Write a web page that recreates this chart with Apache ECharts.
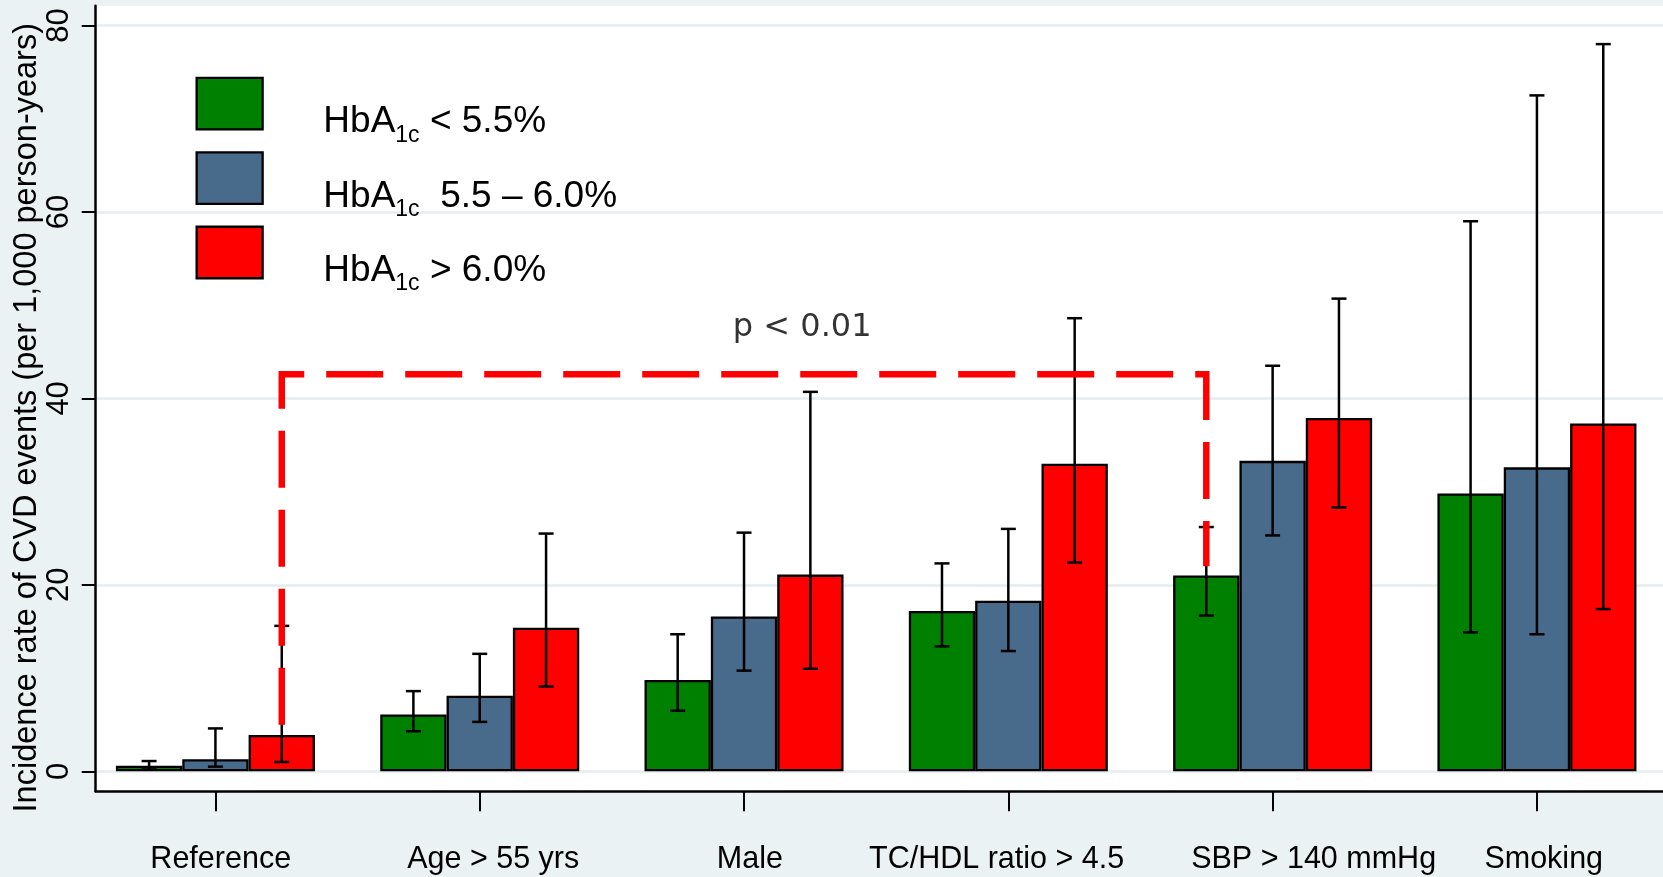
<!DOCTYPE html>
<html>
<head>
<meta charset="utf-8">
<script src="https://cdn.jsdelivr.net/npm/echarts@6/dist/echarts.min.js"></script>
<style>
  html, body { margin: 0; padding: 0; background: #EAF2F3; }
  #chart { width: 1663px; height: 877px; }
</style>
</head>
<body>
<div id="chart"></div>
<script>
// ---------------- data ----------------
const categories = ['Reference', 'Age > 55 yrs', 'Male', 'TC/HDL ratio > 4.5', 'SBP > 140 mmHg', 'Smoking'];
const seriesNames = ['HbA1c < 5.5%', 'HbA1c 5.5 – 6.0%', 'HbA1c > 6.0%'];

const rateLow      = [0.6, 6.1, 9.8, 17.2, 21.0, 29.8];
const rateLowCiLo  = [0.2, 4.3, 6.5, 13.4, 16.7, 14.9];
const rateLowCiHi  = [1.1, 8.6, 14.7, 22.3, 26.2, 59.0];

const rateMid      = [1.3, 8.1, 16.6, 18.3, 33.3, 32.6];
const rateMidCiLo  = [0.5, 5.3, 10.8, 12.9, 25.3, 14.7];
const rateMidCiHi  = [4.6, 12.6, 25.6, 26.0, 43.5, 72.5];

const rateHigh     = [3.9, 15.4, 21.1, 33.0, 37.9, 37.3];
const rateHighCiLo = [1.0, 9.1, 11.0, 22.4, 28.3, 17.4];
const rateHighCiHi = [15.6, 25.5, 40.7, 48.6, 50.7, 78.0];

const yTicks = [0, 20, 40, 60, 80];
const yTitle = 'Incidence rate of CVD events (per 1,000 person-years)';

// significance bracket: from (category, series) bar to another, with levels
const bracketFrom = { cat: 0, series: 2, y: 5.0 };
const bracketTo   = { cat: 4, series: 0, y: 22.0 };
const bracketTop  = 42.6;
const pText = 'p < 0.01';
const pTextAt = [2.22, 47.55];

// ---------------- styles ----------------
const colors = ['#008000', '#486A8B', '#FF0000'];
const barCatGap = 0.247;
const barFrac = (1 - barCatGap) / 3;
const seriesOffsets = [-barFrac, 0, barFrac];
const labelNudgePx = [5.3, 13.5, 5.9, -11.7, 41, 6.8];
const FONT = '"Liberation Sans", Arial, Helvetica, sans-serif';

const values = [rateLow, rateMid, rateHigh];
const ciLo = [rateLowCiLo, rateMidCiLo, rateHighCiLo];
const ciHi = [rateLowCiHi, rateMidCiHi, rateHighCiHi];

const chart = echarts.init(document.getElementById('chart'), null, { renderer: 'canvas' });

const barSeries = values.map((vals, k) => ({
  name: seriesNames[k],
  type: 'bar',
  data: vals.map((v, i) => [i, v]),
  barGap: '0%',
  barCategoryGap: (barCatGap * 100) + '%',
  itemStyle: { color: colors[k], borderColor: '#000', borderWidth: 2.3 },
  z: 2
}));

const errSeries = values.map((vals, k) => ({
  name: 'err' + k,
  type: 'custom',
  data: vals.map((v, i) => [i + seriesOffsets[k], ciLo[k][i], ciHi[k][i]]),
  encode: { x: 0, y: [1, 2] },
  z: 3,
  renderItem: function (params, api) {
    const x = api.value(0);
    const pLo = api.coord([x, api.value(1)]);
    const pHi = api.coord([x, api.value(2)]);
    const hw = 7.5;
    const st = { stroke: '#000', lineWidth: 2.5 };
    return {
      type: 'group',
      children: [
        { type: 'line', shape: { x1: pLo[0], y1: pLo[1], x2: pHi[0], y2: pHi[1] }, style: st },
        { type: 'line', shape: { x1: pHi[0] - hw, y1: pHi[1], x2: pHi[0] + hw, y2: pHi[1] }, style: st },
        { type: 'line', shape: { x1: pLo[0] - hw, y1: pLo[1], x2: pLo[0] + hw, y2: pLo[1] }, style: st }
      ]
    };
  }
}));

const bx0 = bracketFrom.cat + seriesOffsets[bracketFrom.series];
const bx1 = bracketTo.cat + seriesOffsets[bracketTo.series];
const bracketSeries = {
  name: 'bracket',
  type: 'line',
  data: [[bx0, bracketFrom.y], [bx0, bracketTop], [bx1, bracketTop], [bx1, bracketTo.y]],
  symbol: 'none',
  lineStyle: { color: '#FF0000', width: 6.5, type: [57, 22], join: 'miter', cap: 'butt' },
  z: 4,
  silent: true
};

const pSeries = {
  name: 'ptext',
  type: 'scatter',
  data: [pTextAt],
  symbolSize: 0,
  z: 5,
  label: {
    show: true,
    position: 'inside',
    formatter: pText,
    fontFamily: '"DejaVu Sans", Verdana, sans-serif',
    fontSize: 32,
    color: '#000'
  }
};

const labelRich = {};
labelNudgePx.forEach((n, i) => {
  labelRich['c' + i] = {
    fontFamily: FONT, fontSize: 30.5, color: '#000',
    padding: n >= 0 ? [0, 0, 0, 2 * n] : [0, -2 * n, 0, 0]
  };
});

const option = {
  backgroundColor: '#EAF2F3',
  animation: false,
  textStyle: { fontFamily: FONT },
  grid: {
    left: 95.7, right: 0, top: 5.7, bottom: 85.7,
    containLabel: false,
    outerBoundsMode: 'none',
    show: true, backgroundColor: '#FFFFFF', borderWidth: 0
  },
  legend: {
    data: seriesNames,
    orient: 'vertical',
    left: 195.5,
    top: 76.8,
    padding: 0,
    itemGap: 4.5,
    itemWidth: 66,
    itemHeight: 51.5,
    icon: 'rect',
    itemStyle: { borderColor: '#000', borderWidth: 2.3 },
    formatter: function (name) {
      const rest = name.replace('HbA1c', '');
      return '{m|HbA}{s|1c}{m|' + (name === seriesNames[1] ? ' ' + rest : rest) + '}';
    },
    textStyle: {
      color: '#000',
      fontFamily: FONT,
      fontSize: 37,
      padding: [36.4, 0, 0, 55.7],
      rich: {
        m: { fontFamily: FONT, fontSize: 37, lineHeight: 37, color: '#000' },
        s: { fontFamily: FONT, fontSize: 23, lineHeight: 10, verticalAlign: 'top', padding: [20.3, 0, 0, 0], color: '#000' }
      }
    }
  },
  xAxis: {
    type: 'value',
    min: -0.453,
    max: 5.477,
    splitLine: { show: false },
    axisLine: { show: true, onZero: false, lineStyle: { color: '#000', width: 2.5 } },
    axisTick: { show: true, length: 20, customValues: categories.map((c, i) => i), lineStyle: { color: '#000', width: 2 } },
    axisLabel: {
      show: true,
      customValues: categories.map((c, i) => i),
      margin: 53,
      formatter: function (v) {
        const i = Math.round(v);
        return '{c' + i + '|' + categories[i] + '}';
      },
      rich: labelRich,
      color: '#000', fontSize: 30.5, fontFamily: FONT
    }
  },
  yAxis: {
    type: 'value',
    min: -2.145,
    max: 82.12,
    name: yTitle,
    nameLocation: 'middle',
    nameRotate: 90,
    nameGap: 52,
    nameMoveOverlap: false,
    nameTextStyle: { color: '#000', fontSize: 32.5, fontFamily: FONT, padding: [0, 38.4, 0, 0] },
    axisLine: { show: true, onZero: false, lineStyle: { color: '#000', width: 2.5 } },
    axisTick: { show: true, length: 14, customValues: yTicks, lineStyle: { color: '#000', width: 2 } },
    axisLabel: { show: true, customValues: yTicks, rotate: 90, margin: 21, color: '#000', fontSize: 31, fontFamily: FONT },
    splitLine: { show: true, lineStyle: { color: '#E4EDEF', width: 2.5 } }
  },
  series: [...barSeries, ...errSeries, bracketSeries, pSeries]
};

chart.setOption(option);
</script>
</body>
</html>
